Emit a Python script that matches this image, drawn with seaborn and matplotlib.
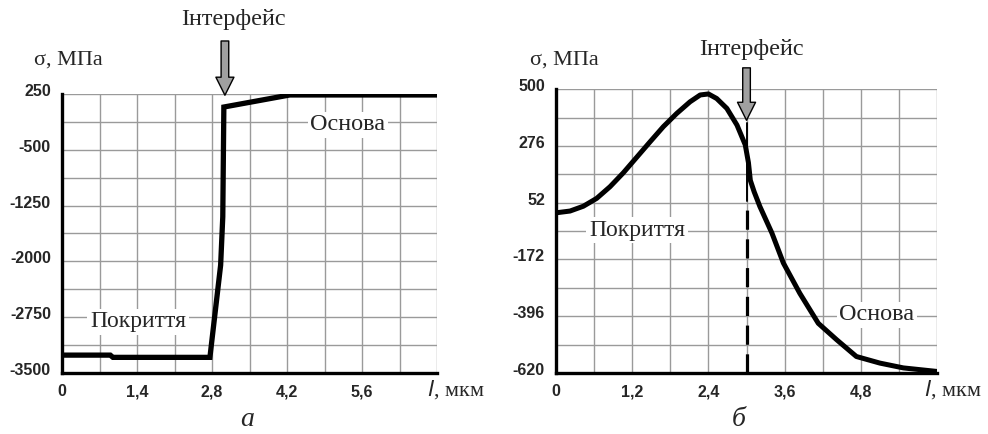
import numpy as np
import pandas as pd
import matplotlib
matplotlib.use("Agg")
import matplotlib.pyplot as plt
import matplotlib.transforms as mtransforms
import seaborn as sns

# --- data ---
# panel a: step-like stress profile
a_l = [0, 0.9, 0.95, 2.76, 2.96, 3.0, 3.02, 4.25, 7.0]
a_sigma = [-3260, -3260, -3290, -3290, -2050, -1400, 75, 237, 237]
a_ytick_labels = [250, -500, -1250, -2000, -2750, -3500]
a_xtick_labels = ['0', '', '1,4', '', '2,8', '', '4,2', '', '5,6', '', '']

# panel b: smooth stress profile
b_l = [0, 0.22, 0.43, 0.64, 0.85, 1.06, 1.27, 1.48, 1.69, 1.90, 2.11, 2.27,
       2.40, 2.53, 2.69, 2.85, 2.98, 3.03, 3.06, 3.12, 3.21, 3.40, 3.58,
       3.84, 4.13, 4.42, 4.73, 5.10, 5.47, 6.0]
b_sigma = [12, 19, 38, 69, 115, 170, 231, 292, 352, 404, 450, 477,
           481, 463, 424, 358, 280, 210, 140, 95, 37, -68, -186,
           -306, -424, -489, -555, -581, -600, -614]
b_ytick_labels = [500, 276, 52, -172, -396, -620]
b_xtick_labels = ['0', '', '1,2', '', '2,4', '', '3,6', '', '4,8', '', '']

sns.set_style("white")
plt.rcParams['font.family'] = ['Liberation Sans', 'DejaVu Sans']
SERIF = ['Liberation Serif', 'DejaVu Serif']
GRID = '#9a9a9a'

fig = plt.figure(figsize=(9.88, 4.34), dpi=100)
ax_a = fig.add_axes([0.0628, 0.1406, 0.3796, 0.6428])
ax_b = fig.add_axes([0.5628, 0.1406, 0.3856, 0.6540])


def style_axes(ax, xmax, xstep, ymin, ymax, ystep, xlabels, ylabels):
    ax.set_xlim(0, xmax)
    ax.set_ylim(ymin, ymax)
    xt = np.arange(0, xmax + xstep / 2, xstep)
    yt = np.arange(ymin, ymax + ystep / 2, ystep)
    ax.set_xticks(xt)
    ax.set_yticks(yt)
    ax.set_xticklabels(xlabels)
    ax.set_yticklabels([str(int(round(v))) if int(round(v)) in ylabels else ''
                        for v in yt])
    ax.grid(True, color=GRID, linewidth=1.0)
    ax.set_axisbelow(True)
    for s in ['top', 'right']:
        ax.spines[s].set_visible(False)
    for s in ['left', 'bottom']:
        ax.spines[s].set_linewidth(2.4)
        ax.spines[s].set_color('black')
        ax.spines[s].set_zorder(5)
    ax.tick_params(axis='both', direction='out', length=4, width=1, color=GRID,
                   labelsize=11.5, pad=4)
    # y labels sit a little above their grid lines in the original
    shift = mtransforms.ScaledTranslation(0, 4 / 100, fig.dpi_scale_trans)
    for t in ax.get_yticklabels():
        t.set_transform(t.get_transform() + shift)
    for t in ax.get_xticklabels() + ax.get_yticklabels():
        t.set_fontweight('bold')


style_axes(ax_a, 7.0, 0.7, -3500, 250, 375, a_xtick_labels, a_ytick_labels)
style_axes(ax_b, 6.0, 0.6, -620, 500, 112, b_xtick_labels, b_ytick_labels)

df_a = pd.DataFrame({'l': a_l, 'sigma': a_sigma})
df_b = pd.DataFrame({'l': b_l, 'sigma': b_sigma})
sns.lineplot(data=df_a, x='l', y='sigma', ax=ax_a, color='black', linewidth=3.8,
             sort=False, zorder=4, solid_joinstyle='miter')
sns.lineplot(data=df_b, x='l', y='sigma', ax=ax_b, color='black', linewidth=3.6,
             sort=False, zorder=4, solid_joinstyle='round')
for ax in (ax_a, ax_b):
    ax.set_xlabel('')
    ax.set_ylabel('')

# interface line on panel b
ax_b.plot([3.0, 3.0], [-620, 60], color='black', linewidth=2.3,
          dashes=(6, 3), zorder=3)
ax_b.plot([3.0, 3.0], [60, 366], color='black', linewidth=1.4, zorder=3)

# arrows "Інтерфейс"
arrow_kw = dict(arrowstyle='simple,head_length=1.3,head_width=1.3,tail_width=0.55',
                fc='#a0a0a0', ec='black', lw=1.0)
ax_a.annotate('', xy=(3.04, 196), xytext=(3.04, 1000), arrowprops=arrow_kw,
              annotation_clip=False, zorder=6)
ax_b.annotate('', xy=(3.0, 366), xytext=(3.0, 595), arrowprops=arrow_kw,
              annotation_clip=False, zorder=6)

fig.text(233 / 988, 1 - 20 / 434, 'Інтерфейс', family=SERIF, fontsize=17.5,
         ha='center', va='center')
fig.text(751 / 988, 1 - 50 / 434, 'Інтерфейс', family=SERIF, fontsize=17.5,
         ha='center', va='center')

# axis titles
for xpix in (68, 564):
    fig.text(xpix / 988, 1 - 60 / 434, 'σ, МПа', family=SERIF, fontsize=16,
             ha='center', va='center')
for xpix in (427, 924):
    fig.text(xpix / 988, 1 - 390 / 434, r'$\it{l}$, мкм', family=SERIF,
             fontsize=16, ha='left', va='center')

# region labels with white background
box = dict(facecolor='white', edgecolor='none', pad=2)
fig.text(348 / 988, 1 - 125 / 434, 'Основа', family=SERIF, fontsize=17.5,
         ha='center', va='center', bbox=box, zorder=10)
fig.text(138 / 988, 1 - 322 / 434, 'Покриття', family=SERIF, fontsize=17,
         ha='center', va='center', bbox=box, zorder=10)
fig.text(637 / 988, 1 - 230 / 434, 'Покриття', family=SERIF, fontsize=17,
         ha='center', va='center', bbox=box, zorder=10)
fig.text(877 / 988, 1 - 315 / 434, 'Основа', family=SERIF, fontsize=17.5,
         ha='center', va='center', bbox=box, zorder=10)

# panel letters
fig.text(247 / 988, 1 - 420 / 434, 'а', family=SERIF, fontsize=20,
         style='italic', ha='center', va='center')
fig.text(739 / 988, 1 - 420 / 434, 'б', family=SERIF, fontsize=20,
         style='italic', ha='center', va='center')

fig.savefig('out.png', dpi=100, facecolor='white')
